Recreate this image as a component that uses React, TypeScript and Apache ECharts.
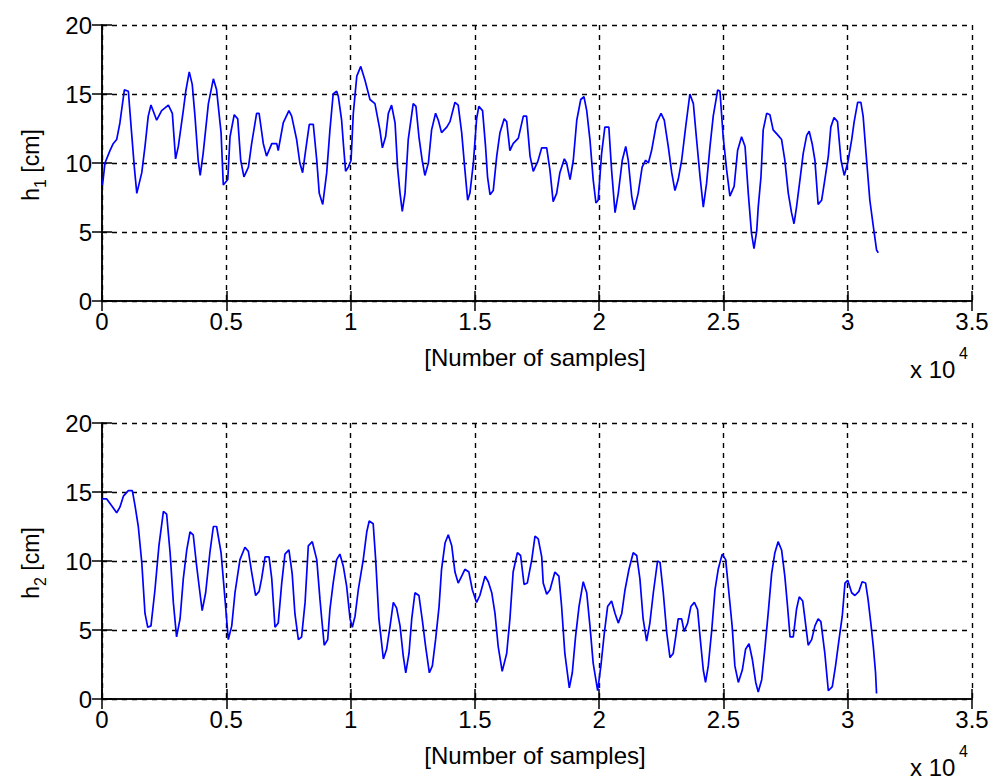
import React, { useEffect, useRef } from "react";
import * as echarts from "echarts";

// ---- data (samples, level in cm) ----
const topSamples = [
  20, 120, 320, 450, 590, 720, 900, 1060, 1190, 1300, 1400, 1600, 1730, 1860, 1970, 2200, 2400, 2670, 2830, 2960,
  3070, 3270, 3370, 3510, 3630, 3740, 3870, 3950, 4070, 4280, 4480, 4610, 4790, 4880, 5060, 5150, 5320, 5460, 5580, 5710,
  5890, 6020, 6220, 6320, 6490, 6620, 6830, 7030, 7090, 7290, 7520, 7630, 7830, 7960, 8070, 8230, 8340, 8500, 8640, 8740,
  8880, 9040, 9170, 9300, 9440, 9510, 9640, 9710, 9800, 9910, 10020, 10110, 10250, 10410, 10580, 10780, 10980, 11180, 11280, 11410,
  11520, 11650, 11790, 11890, 11990, 12080, 12190, 12320, 12520, 12630, 12750, 12880, 12990, 13130, 13260, 13420, 13530, 13660, 13870, 14000,
  14200, 14330, 14470, 14600, 14710, 14800, 14940, 15070, 15160, 15310, 15430, 15510, 15610, 15740, 15880, 16010, 16180, 16280, 16410, 16540,
  16750, 16950, 17080, 17220, 17350, 17530, 17690, 17890, 18020, 18150, 18290, 18420, 18600, 18690, 18830, 18960, 19100, 19260, 19390, 19500,
  19630, 19760, 19870, 19960, 20100, 20230, 20390, 20500, 20640, 20770, 20930, 21070, 21170, 21310, 21410, 21570, 21730, 21870, 21980, 22110,
  22310, 22490, 22620, 22780, 22920, 23050, 23180, 23320, 23480, 23650, 23790, 23920, 24060, 24190, 24320, 24460, 24590, 24770, 24860, 24990,
  25130, 25260, 25430, 25570, 25730, 25870, 26000, 26130, 26230, 26340, 26400, 26510, 26600, 26740, 26870, 27000, 27200, 27340, 27470, 27610,
  27740, 27840, 27940, 28080, 28210, 28350, 28450, 28570, 28680, 28810, 28950, 29080, 29220, 29320, 29450, 29590, 29730, 29860, 30000, 30160,
  30260, 30400, 30530, 30620, 30760, 30890, 31030, 31160, 31230,
];
const topLevels = [
  8.4, 10.0, 10.9, 11.4, 11.7, 12.9, 15.3, 15.2, 12.2, 9.7, 7.8, 9.3, 11.2, 13.4, 14.2, 13.1, 13.8, 14.2, 13.6, 10.3,
  11.2, 13.8, 15.2, 16.6, 15.7, 13.4, 10.2, 9.1, 10.7, 14.3, 16.1, 15.3, 12.2, 8.4, 8.8, 11.9, 13.5, 13.2, 10.2, 9.0,
  9.7, 11.4, 13.6, 13.6, 11.4, 10.5, 11.4, 11.4, 10.9, 12.9, 13.8, 13.4, 11.7, 10.0, 9.3, 11.4, 12.8, 12.8, 10.2, 7.8,
  7.0, 9.3, 12.4, 15.0, 15.2, 14.8, 13.1, 11.4, 9.4, 9.7, 10.2, 13.6, 16.3, 17.0, 16.0, 14.6, 14.3, 12.4, 11.1, 11.9,
  13.6, 14.2, 12.9, 9.7, 7.8, 6.5, 7.8, 11.7, 14.3, 14.1, 11.9, 10.2, 9.1, 10.0, 12.4, 13.6, 13.1, 12.2, 12.6, 13.0,
  14.4, 14.2, 12.2, 9.5, 7.3, 7.8, 10.0, 13.2, 14.1, 13.8, 11.2, 9.0, 7.7, 8.0, 10.5, 12.2, 13.2, 13.0, 10.9, 11.4,
  11.8, 13.4, 13.4, 10.5, 9.4, 10.1, 11.1, 11.1, 9.5, 7.2, 7.8, 9.3, 10.3, 10.0, 8.8, 10.2, 13.1, 14.6, 14.8, 13.8,
  11.7, 8.8, 7.1, 7.3, 10.7, 12.6, 12.6, 9.5, 6.4, 7.8, 10.2, 11.2, 10.2, 7.6, 6.6, 7.8, 9.7, 10.2, 10.0, 10.9,
  12.9, 13.6, 13.1, 11.2, 9.3, 8.0, 8.8, 10.2, 12.6, 15.0, 14.3, 11.7, 9.0, 6.8, 8.5, 11.2, 13.4, 15.3, 15.2, 11.9,
  9.5, 7.6, 8.3, 10.9, 11.9, 11.2, 7.8, 4.9, 3.8, 5.1, 6.8, 9.0, 12.4, 13.6, 13.5, 12.4, 12.0, 11.7, 10.2, 7.8,
  6.4, 5.6, 6.8, 8.8, 10.7, 12.0, 12.3, 11.4, 10.2, 7.0, 7.3, 8.8, 10.5, 12.6, 13.3, 13.0, 10.2, 9.1, 10.0, 11.7,
  13.0, 14.4, 14.4, 13.4, 10.2, 7.3, 5.4, 3.7, 3.5,
];

const bottomSamples = [
  10, 190, 390, 590, 720, 860, 1060, 1220, 1330, 1460, 1600, 1730, 1840, 1970, 2130, 2290, 2470, 2600, 2740, 2870,
  3000, 3140, 3270, 3410, 3540, 3670, 3810, 3940, 4030, 4170, 4340, 4480, 4610, 4790, 4950, 5080, 5220, 5350, 5550, 5750,
  5890, 6020, 6180, 6320, 6420, 6560, 6720, 6830, 6960, 7090, 7230, 7360, 7520, 7650, 7760, 7900, 8030, 8170, 8300, 8460,
  8640, 8770, 8840, 8940, 9080, 9170, 9300, 9440, 9570, 9710, 9840, 9980, 10070, 10180, 10310, 10510, 10650, 10750, 10910, 11010,
  11140, 11320, 11450, 11590, 11720, 11850, 11990, 12120, 12220, 12350, 12460, 12590, 12750, 12880, 13020, 13170, 13290, 13420, 13560, 13660,
  13800, 13930, 14070, 14200, 14330, 14470, 14600, 14760, 14900, 15070, 15200, 15410, 15540, 15680, 15810, 15940, 16100, 16280, 16410, 16540,
  16710, 16840, 16980, 17110, 17290, 17420, 17550, 17690, 17750, 17890, 18020, 18220, 18380, 18490, 18620, 18800, 18920, 19050, 19190, 19360,
  19500, 19630, 19760, 19940, 20070, 20210, 20340, 20500, 20640, 20770, 20910, 21040, 21200, 21370, 21510, 21640, 21770, 21910, 22040, 22180,
  22350, 22450, 22580, 22720, 22850, 22980, 23080, 23180, 23320, 23420, 23560, 23690, 23830, 23960, 24060, 24190, 24280, 24390, 24530, 24660,
  24790, 24950, 25090, 25220, 25350, 25460, 25600, 25760, 25890, 26030, 26160, 26300, 26400, 26540, 26670, 26800, 26940, 27070, 27200, 27340,
  27470, 27580, 27680, 27810, 27940, 28050, 28190, 28280, 28410, 28550, 28680, 28810, 28920, 29080, 29220, 29380, 29510, 29650, 29780, 29890,
  30000, 30160, 30290, 30450, 30580, 30720, 30820, 30930, 31030, 31120, 31160,
];
const bottomLevels = [
  14.5, 14.5, 14.0, 13.5, 13.9, 14.7, 15.1, 15.1, 14.0, 12.5, 9.9, 6.2, 5.2, 5.3, 7.9, 11.1, 13.6, 13.4, 10.6, 7.0,
  4.5, 5.8, 8.7, 10.8, 12.1, 11.9, 9.6, 7.7, 6.4, 7.7, 10.6, 12.5, 12.5, 10.6, 7.2, 4.3, 5.3, 7.7, 10.1, 11.0,
  10.7, 9.2, 7.5, 7.8, 8.7, 10.3, 10.3, 8.7, 5.2, 5.5, 8.4, 10.5, 10.8, 9.1, 6.2, 4.3, 4.5, 7.0, 11.1, 11.4,
  10.1, 7.2, 5.8, 3.9, 4.3, 6.5, 8.4, 10.1, 10.5, 9.6, 8.2, 5.8, 5.2, 6.0, 7.9, 10.1, 12.1, 12.9, 12.7, 10.1,
  5.8, 2.9, 3.6, 5.3, 7.0, 6.6, 5.3, 3.1, 1.9, 3.3, 5.8, 7.7, 7.5, 5.8, 3.8, 1.9, 2.4, 4.3, 6.7, 9.4,
  11.3, 11.9, 11.1, 9.2, 8.4, 8.9, 9.4, 9.2, 7.9, 7.0, 7.5, 8.9, 8.5, 7.7, 6.2, 3.8, 2.0, 3.3, 5.8, 9.2,
  10.6, 10.4, 8.3, 8.4, 10.1, 11.8, 11.6, 10.3, 8.4, 7.6, 7.9, 9.2, 8.9, 6.7, 3.3, 0.8, 1.9, 4.5, 6.7, 8.5,
  7.7, 5.3, 2.6, 0.6, 2.4, 4.8, 6.7, 7.1, 6.2, 5.5, 6.2, 7.9, 9.4, 10.6, 10.4, 8.7, 5.8, 4.2, 5.5, 7.7,
  10.0, 9.9, 7.7, 4.8, 3.0, 3.3, 4.5, 5.8, 5.8, 4.9, 5.5, 6.7, 7.0, 6.5, 4.5, 2.1, 1.2, 2.4, 5.0, 7.9,
  9.4, 10.5, 10.1, 7.7, 5.3, 2.4, 1.2, 2.1, 3.6, 4.0, 2.9, 1.2, 0.5, 1.4, 3.7, 6.2, 9.1, 10.6, 11.4, 10.8,
  8.9, 6.7, 4.5, 4.5, 6.5, 7.4, 7.1, 5.8, 3.9, 4.3, 5.3, 5.8, 5.6, 3.3, 0.6, 0.9, 2.4, 4.3, 6.0, 8.4,
  8.6, 7.7, 7.5, 7.8, 8.5, 8.4, 7.2, 5.5, 3.8, 1.9, 0.4,
];

const xTickValues = [0, 5000, 10000, 15000, 20000, 25000, 30000, 35000];
const yTickValues = [0, 5, 10, 15, 20];
const xAxisTitle = "[Number of samples]";
const xScaleBase = "x 10";
const xScaleExp = "4";
const yTitles = [["h", "1", " [cm]"], ["h", "2", " [cm]"]];

const FONT = '"Liberation Sans", Arial, Helvetica, sans-serif';

const GRID_LEFT = 102;
const GRID_WIDTH = 870;
const GRID_HEIGHT = 276;
const GRID_TOPS = [25, 423];

export default function App() {
  const ref = useRef<HTMLDivElement>(null);

  useEffect(() => {
    if (!ref.current) return;
    const chart = echarts.init(ref.current, null, { renderer: "svg" });

    const grids = GRID_TOPS.map((t) => ({
      left: GRID_LEFT,
      top: t,
      width: GRID_WIDTH,
      height: GRID_HEIGHT,
      containLabel: false,
      show: false,
    }));

    const gridLine = { show: true, lineStyle: { color: "#000", width: 1.4, type: [5, 5] as any } };
    const axisLine = { show: true, lineStyle: { color: "#000", width: 1.5 } };
    const tick = { show: true, inside: true, length: 10, lineStyle: { color: "#000", width: 1.5 } };

    const xAxes: any[] = [];
    const yAxes: any[] = [];
    GRID_TOPS.forEach((_, gi) => {
      const xBase = {
        type: "value",
        gridIndex: gi,
        min: xTickValues[0],
        max: xTickValues[xTickValues.length - 1],
        interval: xTickValues[1] - xTickValues[0],
        axisLine,
        axisTick: tick,
      };
      xAxes.push({
        ...xBase,
        position: "bottom",
        splitLine: gridLine,
        axisLabel: {
          show: true,
          color: "#000",
          fontSize: 24,
          fontFamily: FONT,
          margin: 8,
          formatter: (v: number) => String(v / 10000),
        },
      });
      xAxes.push({
        ...xBase,
        position: "top",
        splitLine: { show: false },
        axisLabel: { show: false },
      });
      const yBase = {
        type: "value",
        gridIndex: gi,
        min: yTickValues[0],
        max: yTickValues[yTickValues.length - 1],
        interval: yTickValues[1] - yTickValues[0],
        axisLine,
        axisTick: tick,
      };
      yAxes.push({
        ...yBase,
        position: "left",
        splitLine: gridLine,
        axisLabel: {
          show: true,
          color: "#000",
          fontSize: 24,
          fontFamily: FONT,
          margin: 10,
        },
      });
      yAxes.push({
        ...yBase,
        position: "right",
        splitLine: { show: false },
        axisLabel: { show: false },
      });
    });

    const mkData = (xs: number[], ys: number[]) => xs.map((x, i) => [x, ys[i]]);

    const lineStyle = { color: "#0000FF", width: 1.7 };
    const series = [
      {
        type: "line",
        xAxisIndex: 0,
        yAxisIndex: 0,
        data: mkData(topSamples, topLevels),
        showSymbol: false,
        symbol: "none",
        lineStyle,
        silent: true,
      },
      {
        type: "line",
        xAxisIndex: 2,
        yAxisIndex: 2,
        data: mkData(bottomSamples, bottomLevels),
        showSymbol: false,
        symbol: "none",
        lineStyle,
        silent: true,
      },
    ];

    const graphics: any[] = [];
    GRID_TOPS.forEach((t, gi) => {
      const off = t - GRID_TOPS[0];
      graphics.push({
        type: "text",
        x: GRID_LEFT + GRID_WIDTH / 2 - 2,
        y: 357 + off,
        style: {
          text: xAxisTitle,
          fill: "#000",
          fontSize: 24,
          fontFamily: FONT,
          align: "center",
          verticalAlign: "middle",
        },
      });
      graphics.push({
        type: "text",
        x: 910,
        y: 369 + off,
        style: {
          text: xScaleBase,
          fill: "#000",
          fontSize: 24,
          fontFamily: FONT,
          align: "left",
          verticalAlign: "middle",
        },
      });
      graphics.push({
        type: "text",
        x: 959,
        y: 353 + off,
        style: {
          text: xScaleExp,
          fill: "#000",
          fontSize: 16,
          fontFamily: FONT,
          align: "left",
          verticalAlign: "middle",
        },
      });
      const yt = yTitles[gi];
      graphics.push({
        type: "text",
        x: 31,
        y: t + GRID_HEIGHT / 2 + 2,
        rotation: Math.PI / 2,
        style: {
          text: `{m|${yt[0]}}{s|${yt[1]}}{m|${yt[2]}}`,
          fill: "#000",
          fontFamily: FONT,
          align: "center",
          verticalAlign: "middle",
          rich: {
            m: { fontSize: 23, lineHeight: 24, verticalAlign: "top", fill: "#000", fontFamily: FONT },
            s: { fontSize: 16, lineHeight: 16, verticalAlign: "top", fill: "#000", fontFamily: FONT, padding: [13, 0, 0, 0] },
          },
        },
      });
    });

    chart.setOption({
      animation: false,
      backgroundColor: "#fff",
      grid: grids,
      xAxis: xAxes,
      yAxis: yAxes,
      series,
      graphic: graphics,
    });

    return () => chart.dispose();
  }, []);

  return (
    <div
      ref={ref}
      style={{ position: "absolute", left: 0, top: 0, width: 994, height: 782, background: "#fff" }}
    />
  );
}
